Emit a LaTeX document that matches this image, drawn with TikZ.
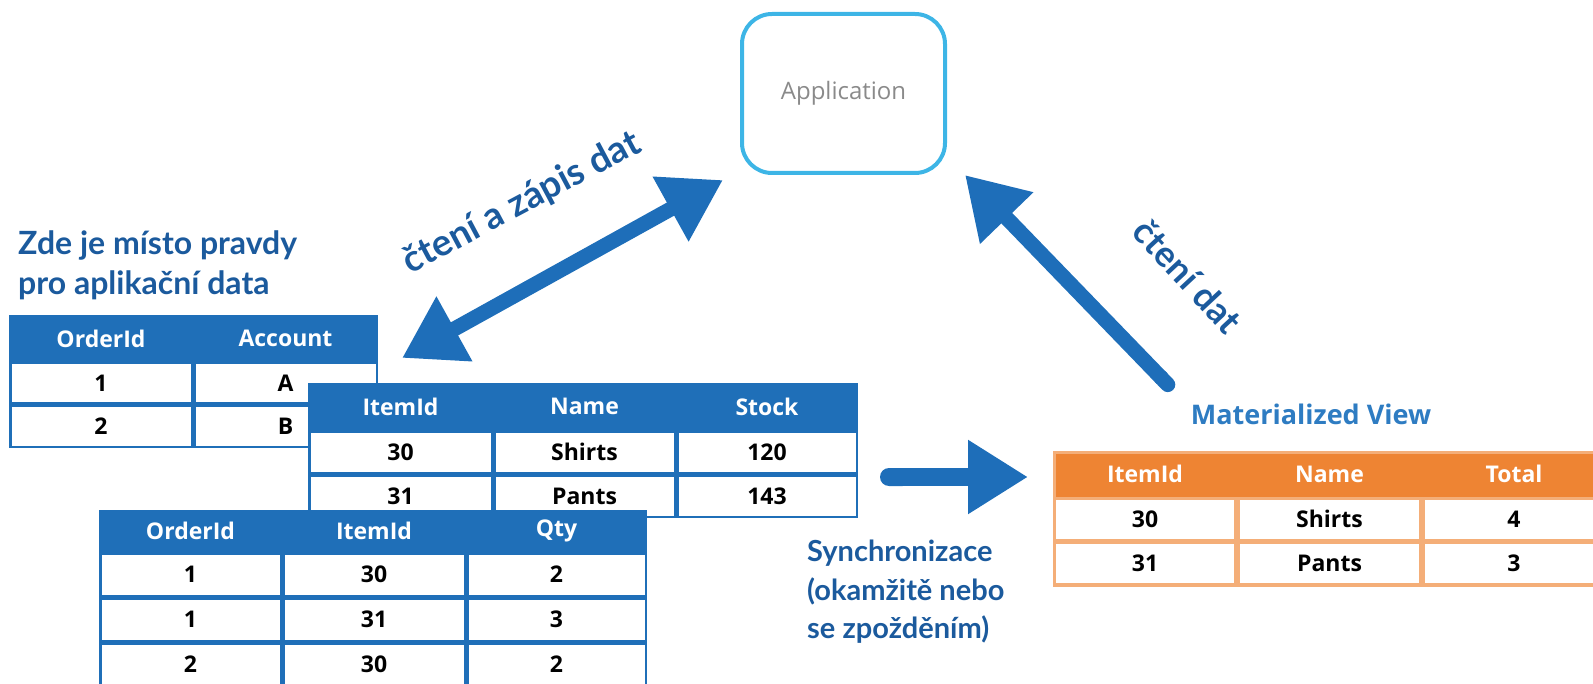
\documentclass[tikz,border=0pt]{standalone}
\usepackage{fontspec}
\setmainfont{Open Sans}
\newfontfamily\latofont{Lato}
\usetikzlibrary{arrows.meta}

\definecolor{tblue}{HTML}{1F6FB8}
\definecolor{tdark}{HTML}{1B5A9D}
\definecolor{arrblue}{HTML}{1E6EB9}
\definecolor{appcyan}{HTML}{3DB5E6}
\definecolor{appgray}{HTML}{8A8A8A}
\definecolor{morange}{HTML}{EE8433}
\definecolor{mlight}{HTML}{F4AE78}
\definecolor{mtitle}{HTML}{2E7CC2}

\begin{document}
\begin{tikzpicture}[x=1pt,y=-1pt,
    thead/.style={text=white,font=\fontsize{23}{26}\selectfont\bfseries},
    tcell/.style={fill=white,inner sep=0pt,font=\fontsize{23}{26}\selectfont\bfseries},
    note/.style={text=tdark,align=left,inner sep=0pt,font=\latofont\bfseries\fontsize{32}{40}\selectfont},
    fatarrow/.style={draw=arrblue,line width=15pt}]
    \useasboundingbox (0,0) rectangle (1593,684);

    % application
    \node[draw=appcyan,line width=4pt,rounded corners=30pt,minimum width=203pt,minimum height=159pt,
          text=appgray,font=\fontsize{24}{28}\selectfont] (app) at (843.5,93.5) {Application};

    % table OrderId / Account
    \fill[tblue] (9,315) rectangle (378,448);
    \foreach \i/\cx/\w/\h/\a/\b in {1/101/179/OrderId/1/2, 2/285.5/180/Account/A/B}{
        \node[thead] (ord-h\i) at (\cx,338.5) {\h};
        \node[tcell,minimum width=\w,minimum height=38] (ord-a\i) at (\cx,383.5) {\a};
        \node[tcell,minimum width=\w,minimum height=38] (ord-b\i) at (\cx,426.5) {\b};
    }

    % table ItemId / Name / Stock
    \fill[tblue] (308,383) rectangle (858,518);
    \foreach \i/\cx/\w/\h/\a/\b in {1/400.5/180/ItemId/30/31, 2/584.5/178/Name/Shirts/Pants, 3/767/177/Stock/120/143}{
        \node[thead] (item-h\i) at (\cx,406.5) {\h};
        \node[tcell,minimum width=\w,minimum height=39] (item-a\i) at (\cx,452) {\a};
        \node[tcell,minimum width=\w,minimum height=39] (item-b\i) at (\cx,496) {\b};
    }

    % table OrderId / ItemId / Qty
    \fill[tblue] (99,510) rectangle (647,700);
    \foreach \i/\cx/\w/\h/\a/\b/\c in {1/190.5/178/OrderId/1/1/2, 2/374/179/ItemId/30/31/30, 3/556.5/176/Qty/2/3/2}{
        \node[thead] (line-h\i) at (\cx,531) {\h};
        \node[tcell,minimum width=\w,minimum height=40] (line-a\i) at (\cx,574.5) {\a};
        \node[tcell,minimum width=\w,minimum height=40] (line-b\i) at (\cx,619.5) {\b};
        \node[tcell,minimum width=\w,minimum height=40] (line-c\i) at (\cx,664.5) {\c};
    }

    % materialized view
    \node[text=mtitle,font=\fontsize{27}{32}\selectfont\bfseries] (mvtitle) at (1311,414) {Materialized View};
    \fill[mlight] (1053,451) rectangle (1610,587);
    \fill[morange] (1056,454) rectangle (1607,497);
    \foreach \i/\cx/\w/\h/\a/\b in {1/1145/178/ItemId/30/31, 2/1329.5/179/Name/Shirts/Pants, 3/1514/178/Total/4/3}{
        \node[thead] (mv-h\i) at (\cx,474) {\h};
        \node[tcell,minimum width=\w,minimum height=39] (mv-a\i) at (\cx,519) {\a};
        \node[tcell,minimum width=\w,minimum height=39] (mv-b\i) at (\cx,563.5) {\b};
    }

    % labels
    \node[note,anchor=north west] (truth) at (18,231) {Zde je místo pravdy\\pro aplikační data};
    \node[note,anchor=north west,font=\latofont\bfseries\fontsize{29}{38.5}\selectfont] (sync) at (807,540) {Synchronizace\\(okamžitě nebo\\se zpožděním)};
    \node[note,rotate=28,font=\latofont\bfseries\fontsize{37}{40}\selectfont] (rwlabel) at (522,203) {čtení a zápis dat};
    \node[note,rotate=-47,font=\latofont\bfseries\fontsize{36}{40}\selectfont] (rlabel) at (1188,276) {čtení dat};

    % arrows
    \coordinate (rw-low) at (402,358);
    \coordinate (rw-up) at (723,180);
    \draw[fatarrow,{Triangle[length=60pt,width=70pt]}-{Triangle[length=60pt,width=70pt]}] (rw-low) -- (rw-up);
    \coordinate (sync-from) at (880,477);
    \coordinate (sync-to) at (1028,477);
    \draw[fatarrow,line width=18pt,{Round Cap[]}-{Triangle[length=60pt,width=70pt]}] (sync-from) -- (sync-to);
    \coordinate (read-from) at (1173,390);
    \coordinate (read-to) at (965,175);
    \draw[fatarrow,{Round Cap[]}-{Triangle[length=60pt,width=70pt]}] (read-from) -- (read-to);

\end{tikzpicture}
\end{document}
